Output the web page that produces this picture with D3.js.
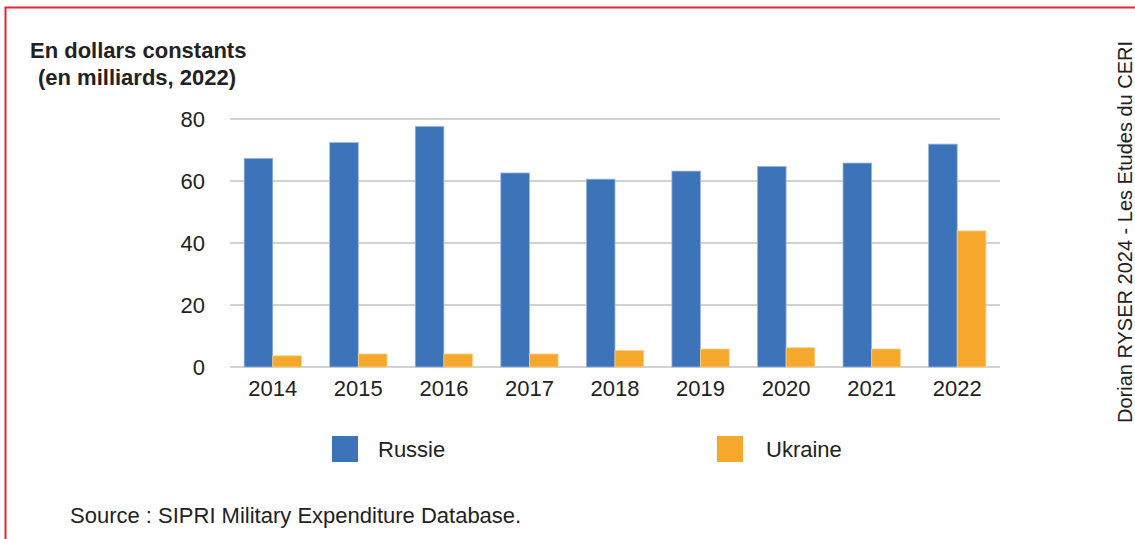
<!DOCTYPE html>
<html>
<head>
<meta charset="utf-8">
<script src="https://cdn.jsdelivr.net/npm/d3@7"></script>
<style>
  body { margin: 0; background: #fff; }
  svg { display: block; font-family: "Liberation Sans", Arial, sans-serif; }
</style>
</head>
<body>
<div id="chart"></div>
<script>
// Données : dépenses militaires (milliards USD constants 2022)
const years = ["2014", "2015", "2016", "2017", "2018", "2019", "2020", "2021", "2022"];
const russie = [67.3, 72.4, 77.6, 62.6, 60.6, 63.2, 64.7, 65.8, 71.9];
const ukraine = [3.6, 4.2, 4.2, 4.2, 5.3, 5.8, 6.2, 5.8, 43.9];
const series = ["Russie", "Ukraine"];
const yTicks = [0, 20, 40, 60, 80];

const colors = { Russie: "#3d73b9", Ukraine: "#f5a82b" };
const edges = { Russie: "#9fb9de", Ukraine: "#f9cf8a" };

const W = 1135, H = 539;
const svg = d3.select("#chart").append("svg")
  .attr("width", W)
  .attr("height", H);

// cadre rouge
svg.append("rect")
  .attr("x", 5.5).attr("y", 7.5)
  .attr("width", W + 10).attr("height", H + 10)
  .attr("fill", "none")
  .attr("stroke", "#e3262f")
  .attr("stroke-width", 2);

const margin = { top: 119, left: 230, right: 135, bottom: 172 };
const width = W - margin.left - margin.right;   // 770
const height = H - margin.top - margin.bottom;  // 248

const g = svg.append("g").attr("transform", `translate(${margin.left},${margin.top})`);

const x = d3.scaleBand()
  .domain(years)
  .range([0, width])
  .paddingInner(0.33)
  .paddingOuter(0.165);

const xs = d3.scaleBand()
  .domain(series)
  .range([0, x.bandwidth()]);

const y = d3.scaleLinear()
  .domain([0, 80])
  .range([height, 0]);

// grille
g.append("g")
  .selectAll("line")
  .data(yTicks)
  .enter()
  .append("line")
  .attr("x1", 0)
  .attr("x2", width)
  .attr("y1", d => y(d))
  .attr("y2", d => y(d))
  .attr("stroke", "#d2d2d2")
  .attr("stroke-width", 1.8);

// axe Y
const yAxis = g.append("g")
  .call(d3.axisLeft(y).tickValues(yTicks).tickSize(0).tickPadding(25));
yAxis.select(".domain").remove();
yAxis.selectAll("text")
  .style("font-size", "22px")
  .style("font-family", "Liberation Sans, Arial, sans-serif")
  .attr("fill", "#222");

// axe X
const xAxis = g.append("g")
  .attr("transform", `translate(0,${height})`)
  .call(d3.axisBottom(x).tickSize(0).tickPadding(13));
xAxis.select(".domain").remove();
xAxis.selectAll("text")
  .style("font-size", "22px")
  .style("font-family", "Liberation Sans, Arial, sans-serif")
  .attr("fill", "#222");

// barres
const rows = years.map((yr, i) => ({ year: yr, Russie: russie[i], Ukraine: ukraine[i] }));

g.selectAll(".grp")
  .data(rows)
  .enter()
  .append("g")
  .attr("class", "grp")
  .attr("transform", d => `translate(${x(d.year)},0)`)
  .selectAll("rect")
  .data(d => series.map(s => ({ key: s, value: d[s] })))
  .enter()
  .append("rect")
  .attr("x", d => xs(d.key))
  .attr("y", d => y(d.value))
  .attr("width", xs.bandwidth())
  .attr("height", d => height - y(d.value))
  .attr("fill", d => colors[d.key])
  .attr("stroke", d => edges[d.key])
  .attr("stroke-width", 0.8);

// titre de l'axe
svg.append("text")
  .attr("x", 30)
  .attr("y", 58)
  .style("font-size", "22px")
  .style("font-weight", "bold")
  .attr("fill", "#222")
  .text("En dollars constants");

svg.append("text")
  .attr("x", 38)
  .attr("y", 85)
  .style("font-size", "22px")
  .style("font-weight", "bold")
  .attr("fill", "#222")
  .text("(en milliards, 2022)");

// légende
const legendX = { Russie: 332, Ukraine: 717 };
const legendTextX = { Russie: 378, Ukraine: 766 };
series.forEach(s => {
  svg.append("rect")
    .attr("x", legendX[s])
    .attr("y", 436)
    .attr("width", 26)
    .attr("height", 26)
    .attr("fill", colors[s]);
  svg.append("text")
    .attr("x", legendTextX[s])
    .attr("y", 457)
    .style("font-size", "22px")
    .attr("fill", "#222")
    .text(s);
});

// source
svg.append("text")
  .attr("x", 70)
  .attr("y", 523)
  .style("font-size", "22px")
  .attr("fill", "#222")
  .text("Source : SIPRI Military Expenditure Database.");

// crédit vertical
svg.append("text")
  .attr("transform", "translate(1132,232) rotate(-90)")
  .attr("text-anchor", "middle")
  .style("font-size", "20px")
  .attr("fill", "#222")
  .text("Dorian RYSER 2024 - Les Etudes du CERI");
</script>
</body>
</html>
